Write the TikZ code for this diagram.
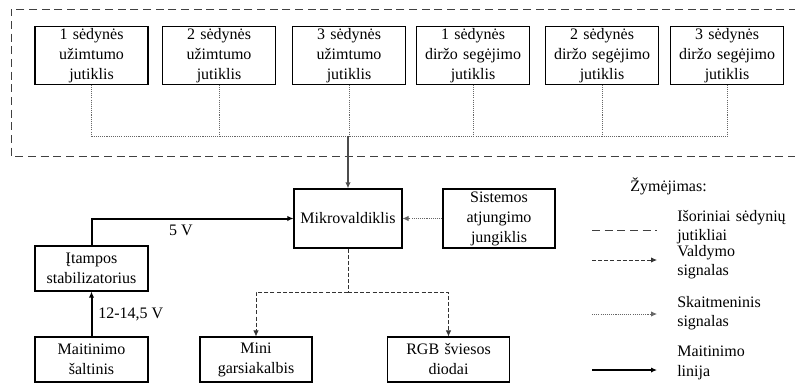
\documentclass[tikz,border=0pt]{standalone}
\usepackage{fontspec}
\setmainfont{Liberation Serif}
\usepackage{tikz}
\usetikzlibrary{positioning,arrows.meta}
\tikzset{
    block/.style={rectangle, draw=black, line width=0.8pt, fill=white, align=center, text width=78pt, inner sep=1pt, font=\fontsize{12}{15}\selectfont},
    sensor/.style={block, minimum width=84.75pt, minimum height=42.75pt},
    digital/.style={draw=black!60, line width=0.6pt, dash pattern=on 0.8pt off 0.8pt},
    control/.style={draw=black!80, line width=0.6pt, dash pattern=on 3pt off 1.6pt},
    outer/.style={draw=black!75, line width=0.7pt, dash pattern=on 6pt off 3.5pt},
    power/.style={draw=black, line width=1.5pt},
    tip/.style={-{Latex[length=4.5pt,width=4pt]}}
}

\begin{document}
\begin{tikzpicture}[
        x=0.75pt, y=-0.75pt,
        % Style cho chu thich
        legend/.style={align=left, text width=95pt, anchor=west, inner sep=0pt, font=\fontsize{12}{14.5}\selectfont},
        label/.style={inner sep=0pt, font=\fontsize{12}{15}\selectfont}
    ]
        \useasboundingbox (0,0) rectangle (795,383);

        % --- KHUNG CAM BIEN NGOAI ---
        \draw[outer] (797,9) -- (11,9) -- (11,156) -- (797,156);

        % --- CAC CAM BIEN ---
        \node[sensor] (s1) at (91.5,55.5) {1 sėdynės\\užimtumo\\jutiklis};
        \node[sensor] (s2) at (219,55.5) {2 sėdynės\\užimtumo\\jutiklis};
        \node[sensor] (s3) at (349,55.5) {3 sėdynės\\užimtumo\\jutiklis};
        \node[sensor] (s4) at (473,55.5) {1 sėdynės\\diržo segėjimo\\jutiklis};
        \node[sensor] (s5) at (602,55.5) {2 sėdynės\\diržo segėjimo\\jutiklis};
        \node[sensor] (s6) at (727,55.5) {3 sėdynės\\diržo segėjimo\\jutiklis};

        % --- KHOI CHINH ---
        \node[block, minimum width=81pt, minimum height=44.25pt] (mcu) at (348,218.5) {Mikrovaldiklis};
        \node[block, minimum width=84pt, minimum height=44.25pt] (sw) at (499,218.5) {Sistemos\\atjungimo\\jungiklis};
        \node[block, minimum width=84.75pt, minimum height=33.75pt] (stab) at (91.5,268.5) {Įtampos\\stabilizatorius};
        \node[block, minimum width=84.75pt, minimum height=33.75pt] (src) at (91.5,359.5) {Maitinimo\\šaltinis};
        \node[block, minimum width=84pt, minimum height=33.75pt] (spk) at (256,359.5) {Mini\\garsiakalbis};
        \node[block, minimum width=92pt, minimum height=33.75pt] (rgb) at (448.5,359.5) {RGB šviesos\\diodai};

        % --- DUONG NOI CAM BIEN ---
        \coordinate (bus) at (348,136);
        \foreach \s in {s1, s2, s3, s4, s5, s6} {
            \draw[digital] (\s.south) -- (\s.south |- bus);
        }
        \draw[digital] (s1.south |- bus) -- (s6.south |- bus);
        \draw[black!70, line width=1pt, tip] (bus) -- (mcu.north);

        % --- TIN HIEU ---
        \draw[digital, tip] (sw.west) -- (mcu.east);
        \coordinate (split) at (348,292);
        \draw[control] (mcu.south) -- (split);
        \draw[control, tip] (split) -| (spk.north);
        \draw[control, tip] (split) -| (rgb.north);

        % --- NGUON ---
        \draw[power, tip] (stab.north) |- (mcu.west);
        \node[label] (v5) at (181,230) {5 V};
        \draw[power, tip] (src.north) -- (stab.south);
        \node[label, anchor=west] (v12) at (98,314) {12-14,5 V};

        % --- CHU THICH ---
        \node[label, anchor=west] (title) at (630,186) {Žymėjimas:};
        \coordinate (a1) at (592,230); \coordinate (b1) at (657,230);
        \coordinate (a2) at (592,260); \coordinate (b2) at (657,260);
        \coordinate (a3) at (592,314); \coordinate (b3) at (657,314);
        \coordinate (a4) at (592,370); \coordinate (b4) at (657,370);
        \draw[outer] (a1) -- (b1);
        \draw[control, tip] (a2) -- (b2);
        \draw[digital, tip] (a3) -- (b3);
        \draw[power, tip] (a4) -- (b4);
        \node[legend] (t1) at (677,227) {Išoriniai sėdynių\\jutikliai};
        \node[legend] (t2) at (677,262) {Valdymo\\signalas};
        \node[legend] (t3) at (677,313) {Skaitmeninis\\signalas};
        \node[legend] (t4) at (677,363) {Maitinimo\\linija};

    \end{tikzpicture}
\end{document}
